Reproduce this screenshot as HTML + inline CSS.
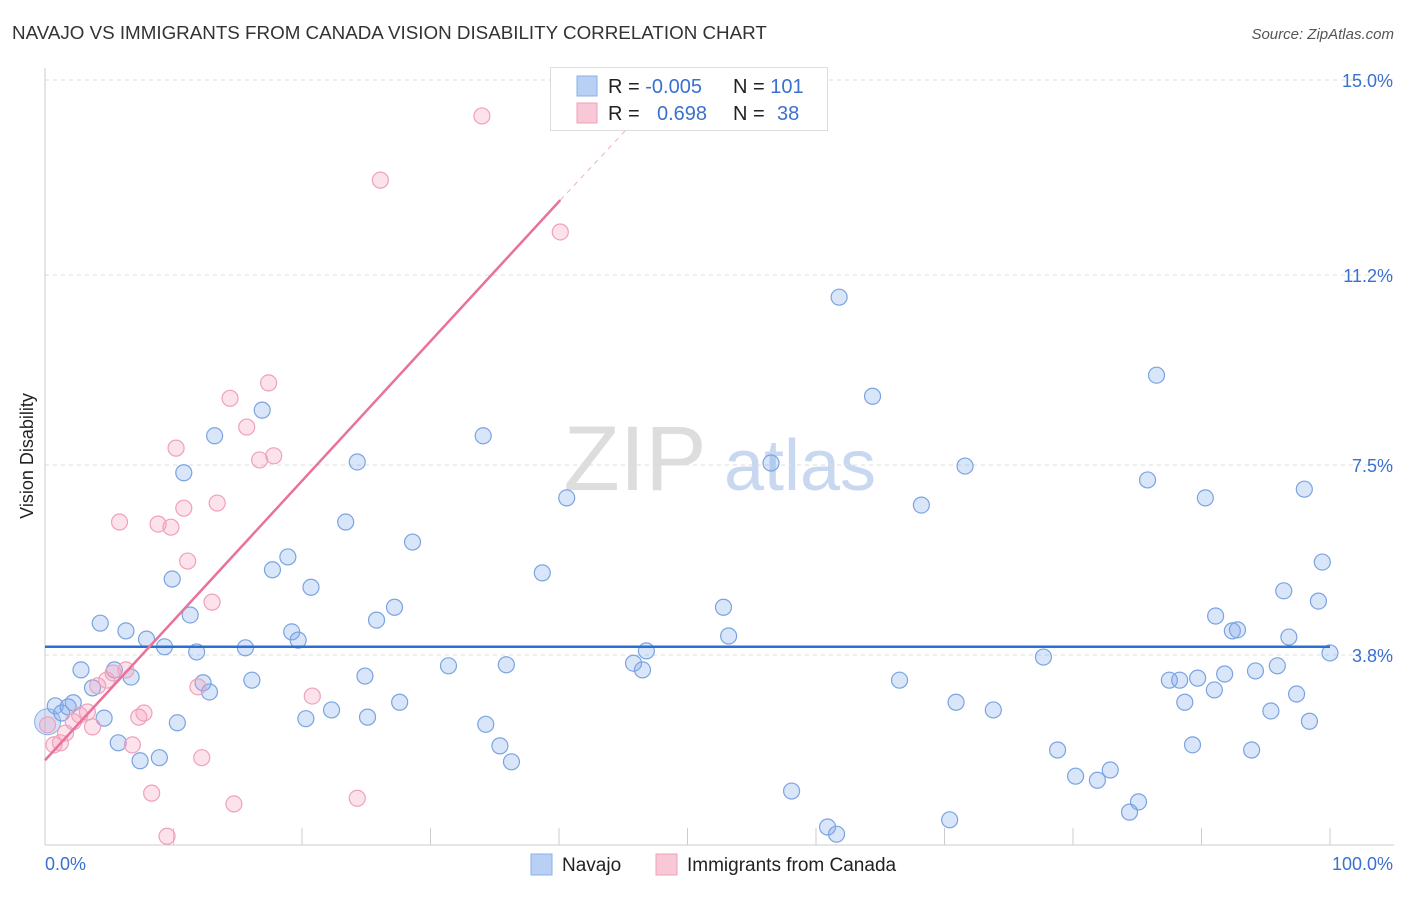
<!DOCTYPE html>
<html><head><meta charset="utf-8"><style>
body{margin:0;background:#fff;font-family:"Liberation Sans",sans-serif;}
svg text{font-family:"Liberation Sans",sans-serif;}
</style></head><body>
<svg id="chart" width="1406" height="892" xmlns="http://www.w3.org/2000/svg">
<text x="12" y="39" font-size="18.8" fill="#333">NAVAJO VS IMMIGRANTS FROM CANADA VISION DISABILITY CORRELATION CHART</text>
<text x="1394" y="39" font-size="15" fill="#555" font-style="italic" text-anchor="end">Source: ZipAtlas.com</text>
<text x="33" y="456" font-size="18" fill="#222" text-anchor="middle" transform="rotate(-90 33 456)">Vision Disability</text>
<g><text x="635" y="490" font-size="92" fill="#ddd" text-anchor="middle" font-family="Liberation Serif">ZIP</text><text x="800" y="490" font-size="72" fill="#c8d8f0" text-anchor="middle">atlas</text></g>
<g id="grid"></g><g id="axes"></g><g id="pts"></g><g id="trend"></g>
<g>
<rect x="550.5" y="67.5" width="277" height="63" fill="#fff" stroke="#ddd"/>
<rect x="577" y="76" width="20" height="20" fill="#b8d0f4" stroke="#8ab0e8"/>
<rect x="577" y="103" width="20" height="20" fill="#f9c8d6" stroke="#f0a0bb"/>
<text x="608" y="93" font-size="20" fill="#222">R = <tspan fill="#3a70d0">-0.005</tspan><tspan x="733">N = </tspan><tspan fill="#3a70d0">101</tspan></text>
<text x="608" y="120" font-size="20" fill="#222">R = <tspan x="657" fill="#3a70d0">0.698</tspan><tspan x="733">N = </tspan><tspan x="777" fill="#3a70d0">38</tspan></text>
</g>
<g>
<rect x="531" y="854" width="21" height="21" fill="#b8d0f4" stroke="#8ab0e8"/>
<text x="562" y="871" font-size="19" fill="#222">Navajo</text>
<rect x="656" y="854" width="21" height="21" fill="#f9c8d6" stroke="#f0a0bb"/>
<text x="687" y="871" font-size="19" fill="#222">Immigrants from Canada</text>
</g>
</svg>
<script>
const yTicks=[3.8,7.5,11.2,15.0];
const yTickLabels=["3.8%","7.5%","11.2%","15.0%"];
const xTicks=[0,10,20,30,40,50,60,70,80,90,100];
const navajoX=[0.8,1.3,2.2,1.8,2.8,3.7,4.3,4.6,5.4,5.7,6.3,6.7,7.4,7.9,8.9,9.3,9.9,10.3,10.8,11.3,11.8,12.3,12.8,13.2,15.6,16.1,16.9,17.7,18.9,19.2,19.7,20.3,20.7,22.3,23.4,24.3,24.9,25.1,25.8,27.2,27.6,28.6,31.4,34.1,34.3,35.4,35.9,36.3,38.7,40.6,45.8,46.5,46.8,52.8,53.2,56.5,58.1,60.9,61.6,61.8,64.4,66.5,68.2,70.4,70.9,71.6,73.8,77.7,78.8,80.2,81.9,82.9,84.4,85.1,85.8,86.5,87.5,88.3,88.7,89.3,89.7,90.3,91.0,91.1,91.8,92.4,92.8,93.9,94.2,95.4,95.9,96.4,96.8,97.4,98.0,98.4,99.1,99.4,100.0];
const navajoY=[2.81,2.67,2.87,2.79,3.51,3.16,4.42,2.57,3.51,2.09,4.27,3.37,1.74,4.11,1.80,3.96,5.28,2.48,7.35,4.58,3.86,3.26,3.08,8.07,3.94,3.31,8.57,5.46,5.71,4.25,4.09,2.56,5.12,2.73,6.39,7.56,3.39,2.59,4.48,4.73,2.88,6.00,3.59,8.07,2.45,2.03,3.61,1.72,5.40,6.86,3.64,3.51,3.88,4.73,4.17,7.54,1.15,0.45,0.31,10.77,8.84,3.31,6.72,0.59,2.88,7.48,2.73,3.76,1.95,1.44,1.36,1.56,0.74,0.94,7.21,9.25,3.31,3.31,2.88,2.05,3.35,6.86,3.12,4.56,3.43,4.27,4.29,1.95,3.49,2.71,3.59,5.05,4.15,3.04,7.03,2.51,4.85,5.61,3.84];
const canadaX=[0.2,0.7,1.2,1.6,2.2,2.7,3.3,3.7,4.1,4.8,5.3,5.8,6.3,6.8,7.3,7.7,8.3,8.8,9.5,9.8,10.2,10.8,11.1,11.9,12.2,13.0,13.4,14.4,14.7,15.7,16.7,17.4,17.8,20.8,24.3,26.1,34.0,40.1];
const canadaY=[2.44,2.05,2.09,2.28,2.50,2.63,2.69,2.40,3.20,3.31,3.45,6.39,3.51,2.05,2.59,2.67,1.11,6.35,0.27,6.29,7.83,6.66,5.63,3.18,1.80,4.83,6.76,8.80,0.90,8.24,7.60,9.10,7.68,3.00,1.01,13.05,14.30,12.04];
const navajoTrend=[3.96,3.96];
const canadaTrend=[1.75,12.66,14.32];
const canadaTrendX=[0,40.1,46.3];
const NS="http://www.w3.org/2000/svg";
const X=v=>45+v*12.85, Y=v=>850.1-v*51.34;
function mk(t,a,p){const e=document.createElementNS(NS,t);for(const k in a)e.setAttribute(k,a[k]);document.getElementById(p).appendChild(e);return e;}
yTicks.forEach((t,i)=>{
 const g=mk('line',{x1:45,x2:1394,y1:Y(t),y2:Y(t),stroke:'#ddd','stroke-dasharray':'4,4'},'grid');
 
 
 const l=mk('text',{x:1393,y:Y(t)+7,'font-size':18,fill:'#3a70d0','text-anchor':'end'},'axes');
 l.textContent=yTickLabels[i];
 
 
});
const ax=mk('line',{x1:45,x2:1394,y1:845,y2:845,stroke:'#ccc'},'axes');


const ay=mk('line',{x1:45,x2:45,y1:68,y2:845,stroke:'#ccc'},'axes');


xTicks.forEach(t=>{const k=mk('line',{x1:X(t),x2:X(t),y1:828,y2:845,stroke:'#ccc'},'axes');
 
 });
const xl0=mk('text',{x:45,y:870,'font-size':18,fill:'#3a70d0'},'axes');xl0.textContent='0.0%';


const xl1=mk('text',{x:1393,y:870,'font-size':18,fill:'#3a70d0','text-anchor':'end'},'axes');xl1.textContent='100.0%';


const big=mk('circle',{cx:X(0.2),cy:Y(2.5),r:13,fill:'rgba(120,160,230,0.3)',stroke:'#8ab0e8'},'pts');


navajoX.forEach((x,i)=>{const c=mk('circle',{cx:X(x),cy:Y(navajoY[i]),r:8,fill:'rgba(130,170,235,0.3)',stroke:'#7aa4e0','stroke-width':1.2},'pts');
 
 });
canadaX.forEach((x,i)=>{const c=mk('circle',{cx:X(x),cy:Y(canadaY[i]),r:8,fill:'rgba(245,160,190,0.3)',stroke:'#f0a0bb','stroke-width':1.2},'pts');
 
 });
const nt=mk('line',{x1:X(0),x2:X(100),y1:Y(navajoTrend[0]),y2:Y(navajoTrend[1]),stroke:'#2a6fd6','stroke-width':2.5},'trend');


const ct=mk('line',{x1:X(canadaTrendX[0]),x2:X(canadaTrendX[1]),y1:Y(canadaTrend[0]),y2:Y(canadaTrend[1]),stroke:'#e8729a','stroke-width':2.5},'trend');


const cd=mk('line',{x1:X(canadaTrendX[1]),x2:X(canadaTrendX[2]),y1:Y(canadaTrend[1]),y2:Y(canadaTrend[2]),stroke:'#f0b0c4','stroke-width':1,'stroke-dasharray':'5,5'},'trend');


</script>
</body></html>
